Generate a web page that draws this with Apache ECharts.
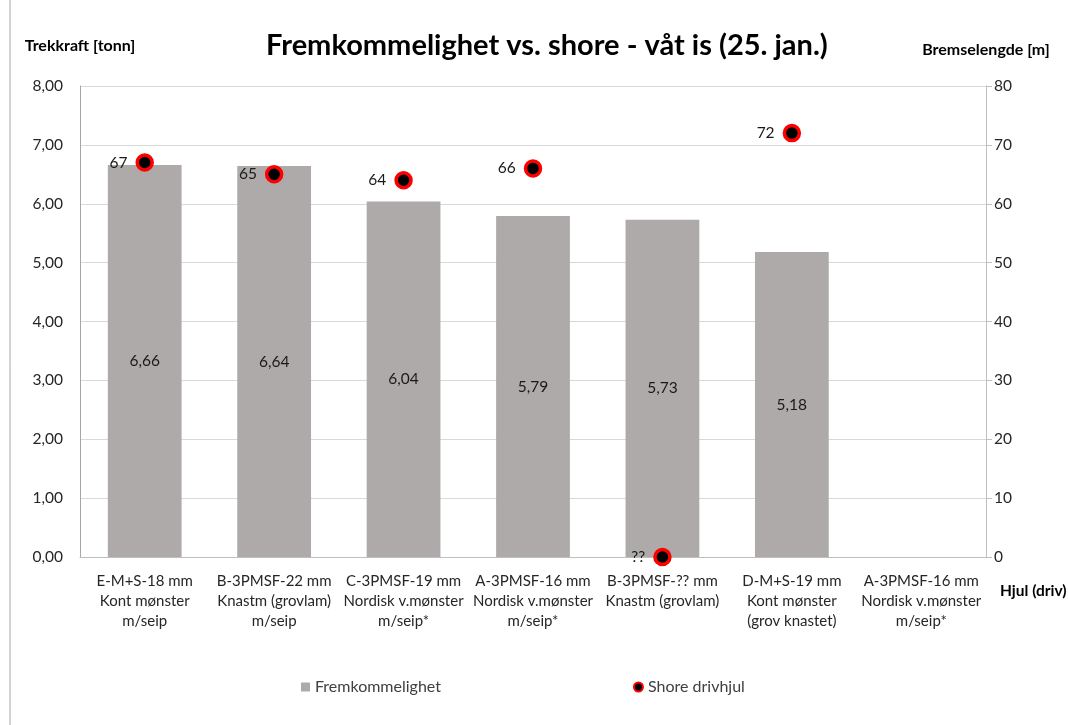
<!DOCTYPE html>
<html>
<head>
<meta charset="utf-8">
<script src="https://cdn.jsdelivr.net/npm/echarts@6/dist/echarts.min.js"></script>
<style>
  html, body { margin: 0; padding: 0; background: #fff; }
  #chart { width: 1068px; height: 725px; }
</style>
</head>
<body>
<div id="chart"></div>
<script>
const categories = [
  "E-M+S-18 mm\nKont mønster\nm/seip",
  "B-3PMSF-22 mm\nKnastm (grovlam)\nm/seip",
  "C-3PMSF-19 mm\nNordisk v.mønster\nm/seip*",
  "A-3PMSF-16 mm\nNordisk v.mønster\nm/seip*",
  "B-3PMSF-?? mm\nKnastm (grovlam)",
  "D-M+S-19 mm\nKont mønster\n(grov knastet)",
  "A-3PMSF-16 mm\nNordisk v.mønster\nm/seip*"
];
// trekkraft in tonn
const fremkommelighet = [6.66, 6.64, 6.04, 5.79, 5.73, 5.18, null];
// bremselengde in m (0 = unknown, shown as ??)
const shore = [67, 65, 64, 66, 0, 72, null];
const leftTicks = [0, 1, 2, 3, 4, 5, 6, 7, 8];

const font = "Lato, 'Noto Sans', sans-serif";
const chart = echarts.init(document.getElementById("chart"));

const option = {
  textStyle: { fontFamily: font },
  animation: false,
  title: {
    text: "Fremkommelighet vs. shore - våt is (25. jan.)",
    left: 261,
    top: 26,
    textStyle: { fontFamily: font, fontSize: 29, fontWeight: "bold", color: "#000" }
  },
  grid: { left: 80, right: 82, top: 86, bottom: 168 },
  legend: {
    bottom: 25,
    left: 296,
    itemGap: 192,
    itemWidth: 9,
    itemHeight: 9,
    textStyle: { fontFamily: font, fontSize: 16, color: "#404040" },
    data: [
      { name: "Fremkommelighet", icon: "rect" },
      { name: "Shore drivhjul", icon: "circle" }
    ]
  },
  graphic: [
    { type: "line", shape: { x1: 10, y1: 0, x2: 10, y2: 725 }, style: { stroke: "#a6a6a6", lineWidth: 1 } },
    {
      type: "text", left: 1000, top: 583,
      style: { text: "Hjul (driv)", font: "bold 15.5px " + font, fill: "#000" }
    }
  ],
  xAxis: {
    type: "category",
    data: categories,
    axisLine: { lineStyle: { color: "#bfbfbf" } },
    axisTick: { show: false },
    axisLabel: { fontSize: 15, color: "#262626", lineHeight: 20, margin: 14, interval: 0 }
  },
  yAxis: [
    {
      type: "value",
      min: leftTicks[0],
      max: leftTicks[leftTicks.length - 1],
      interval: 1,
      name: "Trekkraft [tonn]",
      nameGap: 32,
      nameTextStyle: { fontFamily: font, fontSize: 16, fontWeight: "bold", color: "#000", align: "center" },
      axisLine: { show: true, lineStyle: { color: "#a6a6a6" } },
      axisTick: { show: false },
      splitLine: { lineStyle: { color: "#d9d9d9" } },
      axisLabel: {
        fontSize: 15.5, color: "#262626", margin: 17,
        formatter: v => v.toFixed(2).replace(".", ",")
      }
    },
    {
      type: "value",
      min: 0,
      max: 80,
      interval: 10,
      name: "Bremselengde [m]",
      nameGap: 28,
      nameTextStyle: { fontFamily: font, fontSize: 16, fontWeight: "bold", color: "#000", align: "center" },
      axisLine: { show: true, lineStyle: { color: "#bfbfbf" } },
      axisTick: { show: true, length: 6, lineStyle: { color: "#bfbfbf" } },
      splitLine: { show: false },
      axisLabel: { fontSize: 15.5, color: "#262626", margin: 8 }
    }
  ],
  series: [
    {
      name: "Fremkommelighet",
      type: "bar",
      data: fremkommelighet,
      barWidth: "57%",
      itemStyle: { color: "#aeaaaa" },
      label: {
        show: true,
        position: "inside",
        fontSize: 15.5,
        color: "#1a1a1a",
        formatter: p => p.value.toFixed(2).replace(".", ",")
      }
    },
    {
      name: "Shore drivhjul",
      type: "scatter",
      yAxisIndex: 1,
      data: shore,
      symbol: "circle",
      symbolSize: 15,
      itemStyle: { color: "#000", borderColor: "#ff0000", borderWidth: 3.5, opacity: 1 },
      label: {
        show: true,
        position: "left",
        distance: 8,
        fontSize: 15.5,
        color: "#1a1a1a",
        formatter: p => (p.value === 0 ? "??" : String(p.value))
      },
      z: 5
    }
  ]
};

chart.setOption(option);
</script>
</body>
</html>
